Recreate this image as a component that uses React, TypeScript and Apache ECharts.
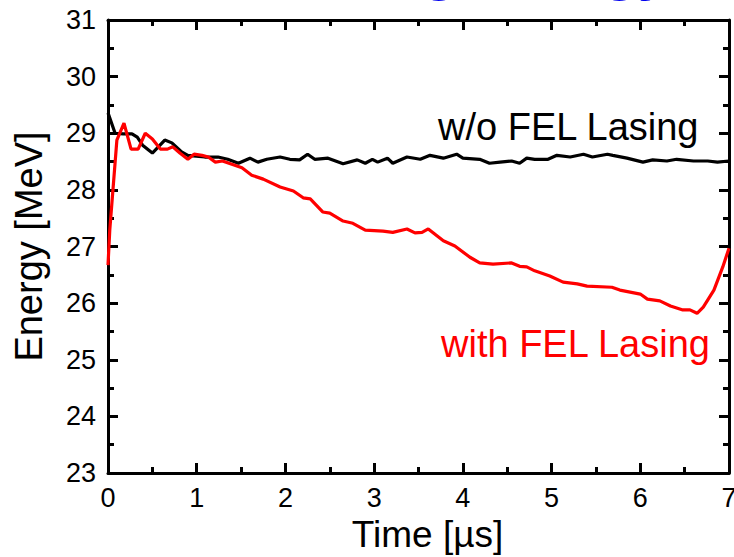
import React, { useEffect, useRef } from "react";
import * as echarts from "echarts";

const timeWithout = [0, 0.08, 0.17, 0.27, 0.33, 0.39, 0.5, 0.64, 0.72, 0.83, 0.9, 1.09, 1.24, 1.35, 1.47, 1.6, 1.69, 1.79, 1.94, 2.05, 2.16, 2.25, 2.33, 2.48, 2.65, 2.81, 2.9, 2.98, 3.04, 3.15, 3.21, 3.37, 3.52, 3.63, 3.78, 3.93, 4.0, 4.19, 4.3, 4.42, 4.55, 4.64, 4.72, 4.81, 4.96, 5.06, 5.21, 5.36, 5.46, 5.63, 5.69, 5.85, 6.03, 6.14, 6.3, 6.41, 6.6, 6.76, 6.87, 7.0];
const energyWithout = [29.36, 29.0, 28.99, 28.99, 28.93, 28.79, 28.65, 28.88, 28.83, 28.67, 28.61, 28.58, 28.58, 28.54, 28.47, 28.56, 28.49, 28.54, 28.58, 28.54, 28.53, 28.63, 28.54, 28.56, 28.46, 28.53, 28.47, 28.54, 28.49, 28.56, 28.47, 28.58, 28.54, 28.61, 28.56, 28.63, 28.56, 28.54, 28.47, 28.49, 28.51, 28.47, 28.56, 28.54, 28.54, 28.61, 28.58, 28.63, 28.58, 28.63, 28.61, 28.56, 28.49, 28.53, 28.51, 28.54, 28.51, 28.51, 28.49, 28.51];

const timeWith = [0, 0.02, 0.1, 0.18, 0.26, 0.34, 0.42, 0.5, 0.59, 0.67, 0.73, 0.81, 0.9, 0.97, 1.06, 1.13, 1.21, 1.29, 1.38, 1.51, 1.62, 1.75, 1.94, 2.09, 2.2, 2.28, 2.42, 2.5, 2.65, 2.76, 2.9, 3.1, 3.21, 3.37, 3.46, 3.54, 3.61, 3.78, 3.91, 4.08, 4.19, 4.34, 4.55, 4.64, 4.72, 4.81, 4.98, 5.13, 5.29, 5.4, 5.68, 5.77, 6.0, 6.08, 6.22, 6.34, 6.48, 6.56, 6.64, 6.71, 6.83, 6.93, 7.0];
const energyWith = [26.67, 27.29, 28.88, 29.18, 28.72, 28.72, 29.0, 28.9, 28.72, 28.72, 28.76, 28.65, 28.54, 28.63, 28.61, 28.58, 28.49, 28.51, 28.46, 28.39, 28.26, 28.19, 28.05, 27.98, 27.86, 27.84, 27.61, 27.59, 27.45, 27.41, 27.29, 27.27, 27.25, 27.31, 27.24, 27.25, 27.31, 27.1, 27.01, 26.81, 26.71, 26.69, 26.71, 26.65, 26.64, 26.57, 26.48, 26.37, 26.34, 26.3, 26.28, 26.23, 26.16, 26.07, 26.04, 25.95, 25.88, 25.88, 25.82, 25.93, 26.23, 26.64, 26.97];

const xTicks = { min: 0, max: 7, interval: 1 };
const yTicks = { min: 23, max: 31, interval: 1 };

const FONT = 'Arial, "Liberation Sans", sans-serif';

export default function App() {
  const ref = useRef<HTMLDivElement>(null);
  useEffect(() => {
    if (!ref.current) return;
    const chart = echarts.init(ref.current, undefined, { renderer: "svg" });
    const lineW = 3;
    const baseAxis = (show: boolean) => ({
      axisLine: { show: true, onZero: false, lineStyle: { color: "#000", width: lineW } },
      axisTick: { show: true, inside: true, length: 10, lineStyle: { color: "#000", width: lineW } },
      minorTick: { show: true, splitNumber: 2, length: 6, lineStyle: { color: "#000", width: lineW } },
      splitLine: { show: false },
      minorSplitLine: { show: false },
      axisLabel: { show, color: "#000", fontSize: 27, fontFamily: FONT },
    });
    const pairs = (t: number[], e: number[]) => t.map((v, i) => [v, e[i]]);
    chart.setOption({
      animation: false,
      backgroundColor: "#fff",
      grid: { left: 108, top: 20, right: 5, bottom: 84, containLabel: false, outerBoundsMode: "none" },
      xAxis: [
        {
          type: "value",
          ...xTicks,
          position: "bottom",
          ...baseAxis(true),
          axisLabel: { show: true, color: "#000", fontSize: 27, fontFamily: FONT, margin: 11 },
          name: "Time [µs]",
          nameLocation: "middle",
          nameGap: 43,
          nameTextStyle: { color: "#000", fontSize: 37, fontFamily: FONT, padding: [0, 0, 0, 18] },
        },
        { type: "value", ...xTicks, position: "top", ...baseAxis(false) },
      ],
      yAxis: [
        {
          type: "value",
          ...yTicks,
          position: "left",
          ...baseAxis(true),
          axisLabel: { show: true, color: "#000", fontSize: 27, fontFamily: FONT, margin: 12 },
          name: "Energy [MeV]",
          nameLocation: "middle",
          nameGap: 60,
          nameTextStyle: { color: "#000", fontSize: 38, fontFamily: FONT },
        },
        { type: "value", ...yTicks, position: "right", ...baseAxis(false) },
      ],
      series: [
        {
          name: "w/o FEL Lasing",
          type: "line",
          data: pairs(timeWithout, energyWithout),
          showSymbol: false,
          symbol: "none",
          lineStyle: { color: "#000", width: 3.2 },
          z: 2,
        },
        {
          name: "with FEL Lasing",
          type: "line",
          data: pairs(timeWith, energyWith),
          showSymbol: false,
          symbol: "none",
          lineStyle: { color: "#ff0000", width: 3.2 },
          z: 3,
        },
      ],
      graphic: [
        {
          type: "text",
          x: 670,
          y: -32,
          style: {
            text: "Decelerating Energy",
            fill: "#0000ee",
            font: `bold 58px ${FONT}`,
            textAlign: "right",
            textVerticalAlign: "middle",
          },
        },
        {
          type: "text",
          x: 438,
          y: 127,
          style: {
            text: "w/o FEL Lasing",
            fill: "#000",
            font: `38px ${FONT}`,
            textAlign: "left",
            textVerticalAlign: "middle",
          },
        },
        {
          type: "text",
          x: 441,
          y: 344,
          style: {
            text: "with FEL Lasing",
            fill: "#ff0000",
            font: `38px ${FONT}`,
            textAlign: "left",
            textVerticalAlign: "middle",
          },
        },
      ],
    });
    return () => chart.dispose();
  }, []);
  return (
    <div
      ref={ref}
      style={{ position: "fixed", left: 0, top: 0, width: 734, height: 557 }}
    />
  );
}
